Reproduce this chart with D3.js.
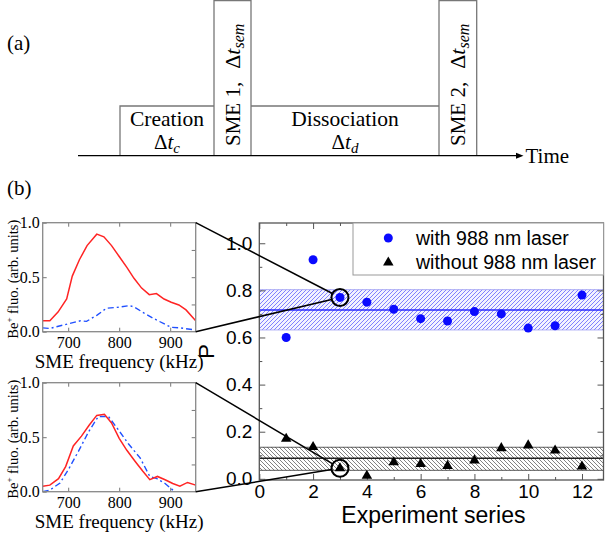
<!DOCTYPE html>
<html>
<head>
<meta charset="utf-8">
<script src="https://cdn.jsdelivr.net/npm/d3@7"></script>
<style>
  body { margin: 0; background: #fff; }
  svg { display: block; }
</style>
</head>
<body>
<svg id="fig" width="608" height="537"></svg>
<script>
// ---------- data ----------
const experimentSeries = [1, 2, 3, 4, 5, 6, 7, 8, 9, 10, 11, 12];
const pWithLaser    = [0.60, 0.93, 0.77, 0.75, 0.72, 0.68, 0.67, 0.71, 0.70, 0.64, 0.65, 0.78];
const pWithoutLaser = [0.17, 0.135, 0.045, 0.013, 0.07, 0.063, 0.055, 0.078, 0.13, 0.142, 0.12, 0.052];
const meanWithLaser = 0.717;
const bandWithLaser = [0.632, 0.803];
const meanWithoutLaser = 0.087;
const bandWithoutLaser = [0.036, 0.134];
const highlightedSeries = 3;

const mainXTicks = [0, 2, 4, 6, 8, 10, 12];
const mainXMinor = [1, 3, 5, 7, 9, 11];
const mainYTicks = [0.0, 0.2, 0.4, 0.6, 0.8, 1.0];
const mainYMinor = [0.1, 0.3, 0.5, 0.7, 0.9];
const legendLabels = ["with 988 nm laser", "without 988 nm laser"];

// SME spectra, [frequency kHz, Be+ fluorescence]
const spectrum1Red = [[650,0.10],[664,0.10],[680,0.18],[697,0.30],[708,0.51],[722,0.66],[737,0.79],[756,0.895],[770,0.87],[785,0.79],[800,0.69],[815,0.59],[829,0.49],[844,0.40],[859,0.34],[873,0.35],[888,0.30],[902,0.27],[917,0.245],[931,0.20],[950,0.10]];
const spectrum1Blue = [[650,0.035],[664,0.03],[698,0.07],[724,0.10],[736,0.095],[756,0.15],[775,0.215],[800,0.225],[820,0.24],[830,0.225],[849,0.17],[868,0.12],[891,0.065],[902,0.04],[920,0.035],[950,0.015]];
const spectrum2Red = [[650,0.05],[664,0.06],[681,0.12],[695,0.23],[710,0.42],[726,0.51],[741,0.61],[756,0.70],[771,0.71],[785,0.63],[800,0.49],[815,0.38],[831,0.28],[846,0.19],[860,0.11],[875,0.14],[890,0.11],[905,0.075],[919,0.05],[934,0.085],[950,0.06]];
const spectrum2Blue = [[650,0.0],[664,0.015],[684,0.08],[700,0.20],[720,0.37],[740,0.55],[759,0.69],[779,0.69],[798,0.57],[818,0.44],[841,0.31],[860,0.14],[874,0.12],[890,0.075],[909,0.0]];
const insetXTicks = [700, 800, 900];
const insetYTicks = [0.0, 0.5, 1.0];

// ---------- setup ----------
const svg = d3.select("#fig");
const serif = "'Liberation Serif','Times New Roman',serif";
const sans = "'Liberation Sans',Arial,sans-serif";
const defs = svg.append("defs");

// diagonal hatching; rising = "/" lines, otherwise "\" lines
function hatch(id, color, bg, rising) {
  const p = defs.append("pattern").attr("id", id)
    .attr("patternUnits", "userSpaceOnUse").attr("width", 4).attr("height", 4);
  p.append("rect").attr("width", 4).attr("height", 4).attr("fill", bg);
  p.append("path")
    .attr("d", rising ? "M-1,1 l2,-2 M0,4 l4,-4 M3,5 l2,-2" : "M-1,3 l2,2 M0,0 l4,4 M3,-1 l2,2")
    .attr("stroke", color).attr("stroke-width", 0.75);
}
hatch("hatchBlue", "#5a5aff", "#f3f3ff", true);
hatch("hatchBlack", "#5a5a5a", "#fff", false);

// ---------- (a) timing sequence ----------
const seq = svg.append("g");
const baseY = 155.7, lowTop = 106, highTop = 0.5;
const edges = [120, 214, 251, 439, 476.7];
const boxColor = "#777";

seq.append("text").attr("x", 7).attr("y", 50).attr("font-family", serif)
  .attr("font-size", 21).text("(a)");

seq.append("path")
  .attr("d", `M${edges[0]},${baseY}V${lowTop}H${edges[1]}`
    + `M${edges[1]},${baseY}V${highTop}H${edges[2]}V${baseY}`
    + `M${edges[2]},${lowTop}H${edges[3]}`
    + `M${edges[3]},${baseY}V${highTop}H${edges[4]}V${baseY}`)
  .attr("fill", "none").attr("stroke", boxColor).attr("stroke-width", 1.3);

seq.append("line").attr("x1", 78).attr("x2", 517).attr("y1", baseY).attr("y2", baseY)
  .attr("stroke", "#000").attr("stroke-width", 1.3);
seq.append("path").attr("d", `M516,${baseY - 3}L523.5,${baseY}L516,${baseY + 3}Z`).attr("fill", "#000");
seq.append("text").attr("x", 525.5).attr("y", 163).attr("font-family", serif)
  .attr("font-size", 21).text("Time");

function phaseLabel(cx, name, sub) {
  seq.append("text").attr("x", cx).attr("y", 125.5).attr("text-anchor", "middle")
    .attr("font-family", serif).attr("font-size", 21.5).text(name);
  const t = seq.append("text").attr("x", cx).attr("y", 149).attr("text-anchor", "middle")
    .attr("font-family", serif).attr("font-size", 21);
  t.append("tspan").text("Δ");
  t.append("tspan").attr("font-style", "italic").text("t");
  t.append("tspan").attr("font-style", "italic").attr("font-size", 15).attr("dy", 3.5).text(sub);
}
phaseLabel((edges[0] + edges[1]) / 2, "Creation", "c");
phaseLabel((edges[2] + edges[3]) / 2, "Dissociation", "d");

function smeLabel(cx, name) {
  const t = seq.append("text")
    .attr("transform", `translate(${cx + 7},146) rotate(-90)`)
    .attr("font-family", serif).attr("font-size", 21);
  t.append("tspan").text(name + ",");
  t.append("tspan").attr("dx", 13).attr("font-size", 22).text("Δ");
  t.append("tspan").attr("font-style", "italic").attr("font-size", 22).text("t");
  t.append("tspan").attr("font-style", "italic").attr("font-size", 16).attr("dy", 4).text("sem");
}
smeLabel((edges[1] + edges[2]) / 2, "SME 1");
smeLabel((edges[3] + edges[4]) / 2, "SME 2");

// ---------- (b) label ----------
svg.append("text").attr("x", 7).attr("y", 195).attr("font-family", serif)
  .attr("font-size", 21).text("(b)");

// ---------- insets ----------
const insetLeft = 42.7, insetRight = 195.7, insetH = 109;
function drawInset(top, red, blue, clipId) {
  const g = svg.append("g");
  const xs = d3.scaleLinear([650, 950], [insetLeft, insetRight]);
  const ys = d3.scaleLinear([0, 1], [top + insetH, top]);

  defs.append("clipPath").attr("id", clipId).append("rect")
    .attr("x", insetLeft).attr("y", top).attr("width", insetRight - insetLeft).attr("height", insetH);

  const line = d3.line().x(d => xs(d[0])).y(d => ys(d[1]));
  const curves = g.append("g").attr("clip-path", `url(#${clipId})`);
  curves.append("path").datum(blue).attr("d", line).attr("fill", "none")
    .attr("stroke", "#2050ff").attr("stroke-width", 1.4).attr("stroke-dasharray", "6,3,2,3");
  curves.append("path").datum(red).attr("d", line).attr("fill", "none")
    .attr("stroke", "#ff2424").attr("stroke-width", 1.5);

  const axStyle = sel => {
    sel.select(".domain").remove();
    sel.selectAll("line").attr("stroke", "#777");
    sel.selectAll("text").attr("font-family", serif).attr("font-size", 16).attr("fill", "#000");
  };
  g.append("g").attr("transform", `translate(0,${top + insetH})`)
    .call(d3.axisBottom(xs).tickValues(insetXTicks).tickFormat(d3.format("d")).tickSize(-4).tickPadding(5))
    .call(axStyle);
  g.append("g").attr("transform", `translate(0,${top})`)
    .call(d3.axisTop(xs).tickValues(insetXTicks).tickFormat("").tickSize(-4))
    .call(axStyle);
  g.append("g").attr("transform", `translate(${insetLeft},0)`)
    .call(d3.axisLeft(ys).tickValues(insetYTicks).tickFormat(d3.format(".1f")).tickSize(-4).tickPadding(3))
    .call(axStyle);
  g.append("g").attr("transform", `translate(${insetRight},0)`)
    .call(d3.axisRight(ys).tickValues([0.25, 0.5, 0.75]).tickFormat("").tickSize(-4))
    .call(axStyle);

  g.append("rect").attr("x", insetLeft).attr("y", top)
    .attr("width", insetRight - insetLeft).attr("height", insetH)
    .attr("fill", "none").attr("stroke", "#888").attr("stroke-width", 1.3);

  g.append("text").attr("x", (insetLeft + insetRight) / 2).attr("y", top + insetH + 36.5)
    .attr("text-anchor", "middle").attr("font-family", serif).attr("font-size", 19)
    .text("SME frequency (kHz)");

  const yl = g.append("text")
    .attr("transform", `translate(18,${top + insetH / 2 + 2}) rotate(-90)`)
    .attr("text-anchor", "middle").attr("font-family", serif).attr("font-size", 14.5);
  yl.append("tspan").text("Be");
  yl.append("tspan").attr("font-size", 9).attr("dy", -6).text("+");
  yl.append("tspan").attr("dy", 6).text(" fluo. (arb. units)");
}
const inset1Top = 222.7, inset2Top = 382.7;
drawInset(inset1Top, spectrum1Red, spectrum1Blue, "clipInset1");
drawInset(inset2Top, spectrum2Red, spectrum2Blue, "clipInset2");

// ---------- main panel ----------
const plotL = 259.3, plotR = 603.5, plotT = 223, plotB = 480;
const x = d3.scaleLinear([0, 12.8], [plotL, plotR]);
const y = d3.scaleLinear([-0.005, 1.086], [plotB, plotT]);
const main = svg.append("g");

main.append("rect").attr("x", plotL).attr("y", plotT)
  .attr("width", plotR - plotL).attr("height", plotB - plotT).attr("fill", "#fff");

// confidence bands
function band(range, mean, pattern, edgeColor, lineColor) {
  main.append("rect").attr("x", plotL).attr("width", plotR - plotL)
    .attr("y", y(range[1])).attr("height", y(range[0]) - y(range[1]))
    .attr("fill", `url(#${pattern})`);
  [range[0], range[1]].forEach(v => main.append("line")
    .attr("x1", plotL).attr("x2", plotR).attr("y1", y(v)).attr("y2", y(v))
    .attr("stroke", edgeColor).attr("stroke-width", 0.8));
  main.append("line").attr("x1", plotL).attr("x2", plotR)
    .attr("y1", y(mean)).attr("y2", y(mean))
    .attr("stroke", lineColor).attr("stroke-width", 1.5);
}
band(bandWithLaser, meanWithLaser, "hatchBlue", "#9a9af2", "#2a2aff");
band(bandWithoutLaser, meanWithoutLaser, "hatchBlack", "#333", "#222");

// axes
const mainAxStyle = sel => {
  sel.select(".domain").remove();
  sel.selectAll("line").attr("stroke", "#555");
  sel.selectAll("text").attr("font-family", sans).attr("font-size", 19).attr("fill", "#000");
};
main.append("g").attr("transform", `translate(0,${plotB})`)
  .call(d3.axisBottom(x).tickValues(mainXTicks).tickFormat(d3.format("d")).tickSize(-6).tickPadding(5))
  .call(mainAxStyle);
main.append("g").attr("transform", `translate(0,${plotB})`)
  .call(d3.axisBottom(x).tickValues(mainXMinor).tickFormat("").tickSize(-3)).call(mainAxStyle);
main.append("g").attr("transform", `translate(0,${plotT})`)
  .call(d3.axisTop(x).tickValues(mainXTicks).tickFormat("").tickSize(-6)).call(mainAxStyle);
main.append("g").attr("transform", `translate(0,${plotT})`)
  .call(d3.axisTop(x).tickValues(mainXMinor).tickFormat("").tickSize(-3)).call(mainAxStyle);
main.append("g").attr("transform", `translate(${plotL},0)`)
  .call(d3.axisLeft(y).tickValues(mainYTicks).tickFormat(d3.format(".1f")).tickSize(-6).tickPadding(7))
  .call(mainAxStyle);
main.append("g").attr("transform", `translate(${plotL},0)`)
  .call(d3.axisLeft(y).tickValues(mainYMinor).tickFormat("").tickSize(-3)).call(mainAxStyle);
main.append("g").attr("transform", `translate(${plotR},0)`)
  .call(d3.axisRight(y).tickValues(mainYTicks).tickFormat("").tickSize(-6)).call(mainAxStyle);
main.append("g").attr("transform", `translate(${plotR},0)`)
  .call(d3.axisRight(y).tickValues(mainYMinor).tickFormat("").tickSize(-3)).call(mainAxStyle);

main.append("rect").attr("x", plotL).attr("y", plotT)
  .attr("width", plotR - plotL).attr("height", plotB - plotT)
  .attr("fill", "none").attr("stroke", "#555").attr("stroke-width", 1.3);

main.append("text").attr("x", (plotL + plotR) / 2 + 2).attr("y", 523)
  .attr("text-anchor", "middle").attr("font-family", sans).attr("font-size", 23)
  .text("Experiment series");
main.append("text").attr("transform", `translate(214,${(plotT + plotB) / 2}) rotate(-90)`)
  .attr("text-anchor", "middle").attr("font-family", sans).attr("font-size", 22).text("P");

// data markers
const tri = d3.symbol().type(d3.symbolTriangle).size(48);
main.append("g").selectAll("circle").data(experimentSeries).join("circle")
  .attr("cx", d => x(d)).attr("cy", (d, i) => y(pWithLaser[i])).attr("r", 4.5)
  .attr("fill", "#0a0aff");
main.append("g").selectAll("path").data(experimentSeries).join("path")
  .attr("transform", (d, i) => `translate(${x(d)},${y(pWithoutLaser[i])})`)
  .attr("d", tri).attr("fill", "#000");

// legend
const leg = main.append("g");
leg.append("rect").attr("x", 353).attr("y", plotT).attr("width", plotR - 353).attr("height", 52)
  .attr("fill", "#fff").attr("stroke", "#999").attr("stroke-width", 1);
leg.append("circle").attr("cx", 388.3).attr("cy", 238).attr("r", 4.5).attr("fill", "#0a0aff");
leg.append("path").attr("transform", "translate(388.3,262.5)").attr("d", tri).attr("fill", "#000");
leg.selectAll("text.lbl").data(legendLabels).join("text").attr("class", "lbl")
  .attr("x", 416).attr("y", (d, i) => 244.5 + i * 24)
  .attr("font-family", sans).attr("font-size", 19.5).text(d => d);

// highlighted measurements and connectors to the spectra
const hi = experimentSeries.indexOf(highlightedSeries);
const circ1 = [x(highlightedSeries), y(pWithLaser[hi])];
const circ2 = [x(highlightedSeries), y(pWithoutLaser[hi])];
const rHi = 8.5;
[circ1, circ2].forEach(c => main.append("circle").attr("cx", c[0]).attr("cy", c[1]).attr("r", rHi)
  .attr("fill", "none").attr("stroke", "#000").attr("stroke-width", 2));

function connector(from, c) {
  const dx = from[0] - c[0], dy = from[1] - c[1];
  const len = Math.hypot(dx, dy);
  svg.append("line").attr("x1", from[0]).attr("y1", from[1])
    .attr("x2", c[0] + dx / len * rHi).attr("y2", c[1] + dy / len * rHi)
    .attr("stroke", "#000").attr("stroke-width", 1.5);
}
connector([insetRight, inset1Top], circ1);
connector([insetRight, inset1Top + insetH], circ1);
connector([insetRight, inset2Top], circ2);
connector([insetRight, inset2Top + insetH], circ2);
</script>
</body>
</html>
